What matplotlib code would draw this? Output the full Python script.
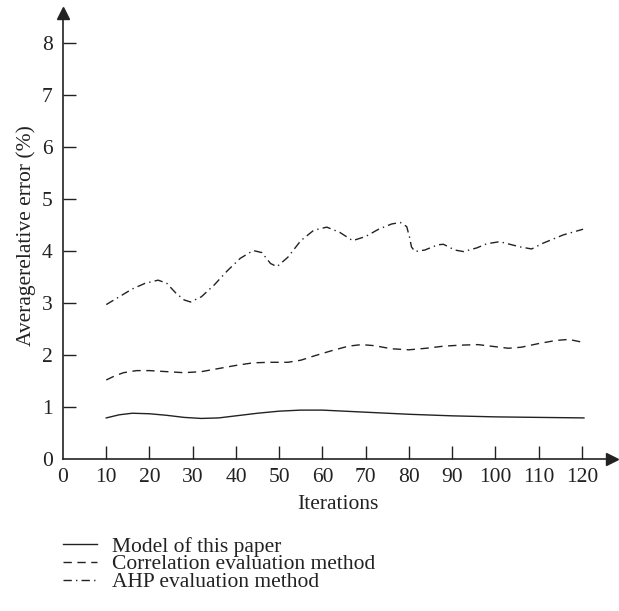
import matplotlib
matplotlib.use('Agg')
import matplotlib.pyplot as plt

plt.rcParams['font.family'] = ['Liberation Serif', 'DejaVu Serif']

# values
model_x = [10, 13, 16, 20, 24, 28, 32, 36, 40, 45, 50, 55, 60, 65, 70, 80, 90, 100, 110, 120.5]
model_y = [0.79, 0.85, 0.88, 0.87, 0.84, 0.80, 0.78, 0.79, 0.83, 0.88, 0.92, 0.94, 0.94, 0.92,
           0.90, 0.86, 0.83, 0.81, 0.80, 0.79]

corr_x = [10, 12, 14, 17, 20, 24, 28, 32, 36, 40, 44, 48, 52, 55, 58, 62, 66, 69, 72, 76,
          80, 84, 88, 92, 96, 99, 103, 106, 110, 114, 117, 120.5]
corr_y = [1.52, 1.60, 1.66, 1.70, 1.70, 1.68, 1.66, 1.68, 1.74, 1.80, 1.85, 1.86, 1.86, 1.90,
          1.98, 2.08, 2.17, 2.20, 2.18, 2.12, 2.10, 2.13, 2.17, 2.19, 2.20, 2.17, 2.13, 2.15,
          2.22, 2.28, 2.30, 2.24]

ahp_x = [10, 13, 16, 19, 22, 24, 26, 28, 29.5, 32, 35, 38, 41, 44, 46, 48, 49.5, 52, 55, 58,
         61, 64, 67, 70, 73, 76, 78, 79.5, 80.2, 80.6, 81.4, 83.7, 86.7, 88, 90.6, 92.6, 95.7,
         98, 101, 105.7, 108.4, 111, 115.7, 120.3]
ahp_y = [2.97, 3.12, 3.27, 3.38, 3.44, 3.38, 3.20, 3.06, 3.02, 3.12, 3.35, 3.62, 3.86, 4.01,
         3.97, 3.76, 3.70, 3.88, 4.20, 4.40, 4.46, 4.36, 4.20, 4.28, 4.42, 4.52, 4.55, 4.47,
         4.25, 4.08, 3.99, 4.02, 4.12, 4.13, 4.02, 3.99, 4.06, 4.14, 4.18, 4.08, 4.04, 4.15,
         4.31, 4.42]

labels = ['Model of this paper', 'Correlation evaluation method', 'AHP evaluation method']
xticks = list(range(0, 121, 10))
yticks = list(range(0, 9))

fs = 15.5
ink = '#222222'

fig = plt.figure(figsize=(6.19, 6.11), dpi=100)
ax = fig.add_axes([0.1018, 0.2488, 0.887, 0.730])

lw = 1.0
ax.plot(model_x, model_y, color=ink, lw=lw, linestyle='-', label=labels[0])
ax.plot(corr_x, corr_y, color=ink, lw=lw, linestyle=(0, (6, 4)), label=labels[1])
ax.plot(ahp_x, ahp_y, color=ink, lw=lw, linestyle=(0, (6, 3, 1, 3)), label=labels[2])

ax.set_xlim(0, 127)
ax.set_ylim(0, 8.58)
ax.spines['top'].set_visible(False)
ax.spines['right'].set_visible(False)
for s in ['left', 'bottom']:
    ax.spines[s].set_linewidth(1.2)
    ax.spines[s].set_color(ink)

ax.set_xticks(xticks)
ax.set_yticks(yticks)
ax.tick_params(direction='in', length=9.5, width=1.0, labelsize=fs, color=ink,
               labelcolor=ink)
ax.tick_params(axis='x', pad=6.5)
ax.tick_params(axis='y', pad=7.5)
ax.xaxis.get_major_ticks()[0].tick1line.set_visible(False)
ax.yaxis.get_major_ticks()[0].tick1line.set_visible(False)

# arrow heads at the axis ends
ax.plot(1, 0, '>', color=ink, ms=9, transform=ax.transAxes, clip_on=False)
ax.plot(0, 1, '^', color=ink, ms=9, transform=ax.transAxes, clip_on=False)

ax.set_xlabel('Iterations', fontsize=fs, color=ink, labelpad=6)
ax.set_ylabel('Averagerelative error (%)', fontsize=fs, color=ink, labelpad=4)

leg = fig.legend(loc='upper left', bbox_to_anchor=(0.102, 0.122), frameon=False,
                 fontsize=fs, handlelength=1.58, handletextpad=0.7, labelspacing=-0.1,
                 borderaxespad=0, borderpad=0)
for t in leg.get_texts():
    t.set_color(ink)

fig.savefig('out.png', dpi=100)
